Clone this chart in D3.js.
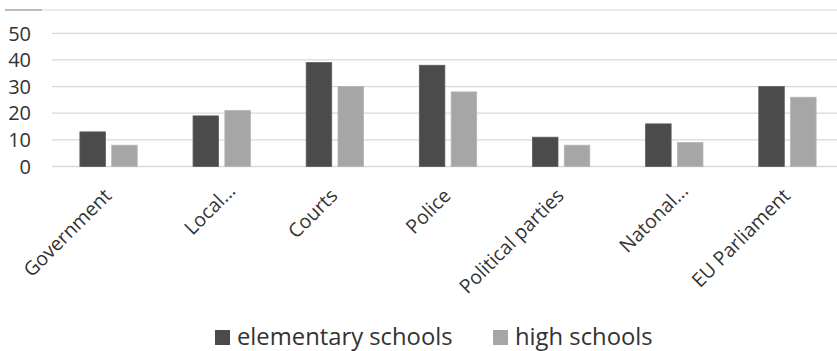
<!DOCTYPE html>
<html>
<head>
<meta charset="utf-8">
<script src="https://cdn.jsdelivr.net/npm/d3@7"></script>
<style>
  html, body { margin: 0; padding: 0; background: #fff; }
  svg { display: block; font-family: "Open Sans", sans-serif; }
</style>
</head>
<body>
<svg id="chart" width="837" height="351"></svg>
<script>
// Trust in institutions, share of respondents (%)
const categories = ["Government", "Local...", "Courts", "Police", "Political parties", "Natonal...", "EU Parliament"];
const seriesNames = ["elementary schools", "high schools"];
const elementary = [13, 19, 39, 38, 11, 16, 30];
const highSchool = [8, 21, 30, 28, 8, 9, 26];
const yTicks = [0, 10, 20, 30, 40, 50];
const seriesColors = ["#4b4b4b", "#a6a6a6"];

const svg = d3.select("#chart");
const W = 837;

const x0 = d3.scaleBand().domain(categories).range([52, 844]).paddingInner(0).paddingOuter(0);
const x1 = d3.scaleBand().domain(seriesNames).range([0, x0.bandwidth()]).paddingInner(0.198).paddingOuter(0.877);
const y = d3.scaleLinear().domain([0, 50]).range([166.5, 33.3]);

// frame line across the top
svg.append("line").attr("x1", 5).attr("x2", W).attr("y1", 10).attr("y2", 10)
  .attr("stroke", "#d9d9d9").attr("stroke-width", 1);
svg.append("line").attr("x1", 5).attr("x2", 42).attr("y1", 10).attr("y2", 10)
  .attr("stroke", "#8a8a8a").attr("stroke-width", 1);

// horizontal gridlines
svg.append("g").selectAll("line").data(yTicks).join("line")
  .attr("x1", 52).attr("x2", W)
  .attr("y1", d => y(d)).attr("y2", d => y(d))
  .attr("stroke", "#d9d9d9").attr("stroke-width", d => d === 0 ? 1.5 : 1.3);

// y tick labels
svg.append("g").selectAll("text").data(yTicks).join("text")
  .attr("x", 31).attr("y", d => y(d))
  .attr("dy", "0.36em")
  .attr("text-anchor", "end")
  .attr("font-size", 20)
  .attr("fill", "#333")
  .text(d => d);

// bars
const rows = categories.map((c, i) => ({ cat: c, vals: [elementary[i], highSchool[i]] }));
const groups = svg.append("g").selectAll("g").data(rows).join("g")
  .attr("transform", d => `translate(${x0(d.cat)},0)`);
groups.selectAll("rect").data(d => d.vals.map((v, j) => ({ name: seriesNames[j], v, j })))
  .join("rect")
  .attr("x", d => x1(d.name))
  .attr("width", x1.bandwidth())
  .attr("y", d => y(d.v))
  .attr("height", d => y(0) - y(d.v))
  .attr("fill", d => seriesColors[d.j])
  .attr("stroke", d => d.j === 0 ? "#5c5c5c" : "#b4b4b4")
  .attr("stroke-width", 0.8);

// rotated category labels
svg.append("g").selectAll("text").data(categories).join("text")
  .attr("transform", d => {
    const cx = x0(d) + x0.bandwidth() / 2;
    const shifted = d.endsWith("...");
    const px = cx + (shifted ? 15 : 4);
    const py = shifted ? 192 : 197;
    return `translate(${px},${py}) rotate(-45)`;
  })
  .attr("text-anchor", "end")
  .attr("font-size", 19.5)
  .attr("fill", "#333")
  .text(d => d);

// legend
const legendX = [215, 493];
const legend = svg.append("g").selectAll("g").data(seriesNames).join("g")
  .attr("transform", (d, i) => `translate(${legendX[i]},330)`);
legend.append("rect").attr("width", 15).attr("height", 15)
  .attr("fill", (d, i) => seriesColors[i]);
legend.append("text").attr("x", 22).attr("y", 15)
  .attr("font-size", 23.8).attr("fill", "#333")
  .text(d => d);
</script>
</body>
</html>
